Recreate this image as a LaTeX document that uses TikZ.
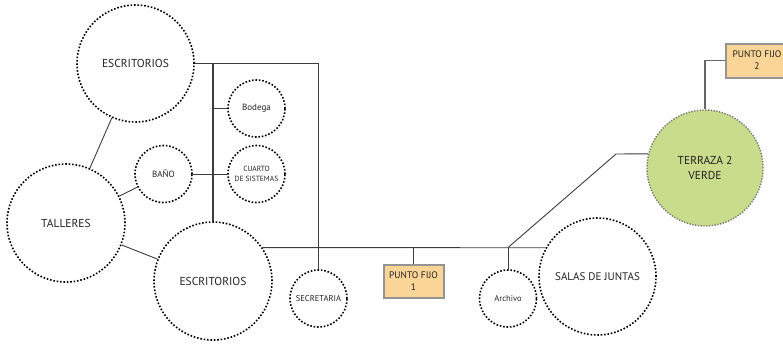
\documentclass[tikz,border=0pt]{standalone}
\usepackage{fontspec}
\setmainfont{PT Sans}
\usetikzlibrary{calc}
\definecolor{linea}{HTML}{3C3C3C}
\definecolor{texto}{HTML}{222222}
\definecolor{naranja}{HTML}{FAD597}
\definecolor{verde}{HTML}{C9DC8B}
\tikzset{
	sala/.style={circle, inner sep=0pt, text=texto, draw=black, line width=1.6pt,
		dash pattern=on 1.6pt off 1.8pt, align=center},
	puntofijo/.style={rectangle, draw=black!42, line width=2pt, fill=naranja, text=texto,
		minimum width=60pt, minimum height=33pt, inner sep=0pt, align=center, font=\fontsize{9.5}{12}\selectfont},
	conexion/.style={draw=linea, line width=0.9pt}
}

\begin{document}
\begin{tikzpicture}[x=1pt, y=-1pt]
			%%%%% START %%%%%
			\useasboundingbox (0, 0) rectangle (783, 343);
			
			\node[sala, minimum size=117pt, font=\fontsize{11.5}{13}\selectfont] (esc1) at (135.5, 63.5) {ESCRITORIOS};
			\node[sala, minimum size=118pt, font=\fontsize{11.5}{13}\selectfont] (talleres) at (66, 223) {TALLERES};
			\node[sala, minimum size=118pt, font=\fontsize{11.5}{13}\selectfont] (esc2) at (213, 281) {ESCRITORIOS};
			
			\node[sala, minimum size=57pt, font=\fontsize{9}{10}\selectfont] (bano) at (163.5, 174) {BAÑO};
			\node[sala, minimum size=57pt, font=\fontsize{9}{10}\selectfont] (bodega) at (256.5, 108.5) {Bodega};
			\node[sala, minimum size=57pt, font=\fontsize{7.5}{10}\selectfont] (cuarto) at (256.5, 174) {CUARTO\\DE SISTEMAS};
			\node[sala, minimum size=57pt, font=\fontsize{8.5}{10}\selectfont] (secre) at (318.5, 298.5) {SECRETARIA};
			\node[sala, minimum size=57pt, font=\fontsize{8.5}{10}\selectfont] (archivo) at (508, 298.5) {Archivo};
			\node[sala, minimum size=117pt, font=\fontsize{11}{13}\selectfont] (salas) at (597.5, 276.5) {SALAS DE JUNTAS};
			
			\node[sala, minimum size=116pt, fill=verde, draw=black!55, line width=1.4pt,
				dash pattern=on 1.3pt off 1.5pt, font=\fontsize{11.5}{15}\selectfont] (terraza) at (705, 168) {TERRAZA 2\\VERDE};
			
			\node[puntofijo] (pf1) at (413.5, 281) {PUNTO FIJO\\1};
			\node[puntofijo, minimum width=62pt, minimum height=34pt] (pf2) at (757, 60.5) {PUNTO FIJO\\2};
			
			% conexiones
			\draw[conexion] (esc1) -- (talleres);
			\draw[conexion] (talleres) -- (bano);
			\draw[conexion] (talleres) -- (esc2);
			\draw[conexion] (esc1.east) -| (secre.north);
			\draw[conexion, line width=1.2pt] (esc2.north) -- (esc2.north |- esc1.east);
			\draw[conexion, line width=1.2pt] (bodega.west) -- (bodega.west -| esc2.north);
			\draw[conexion] (bano.east) -- (cuarto.west);
			
			\draw[conexion] (esc2.34) -- (salas.151);
			\draw[conexion] (pf1.north) -- (pf1.north |- esc2.34);
			\coordinate (junta) at (archivo.north |- esc2.34);
			\coordinate (codo) at (616, 154);
			\draw[conexion] (archivo.north) -- (junta);
			\draw[conexion] (junta) -- (codo) -- (terraza.166);
			\draw[conexion, line width=1.2pt, draw=black!60] (terraza.north) |- (pf2.west);
			
			%%%%% END %%%%%
		\end{tikzpicture}
\end{document}
